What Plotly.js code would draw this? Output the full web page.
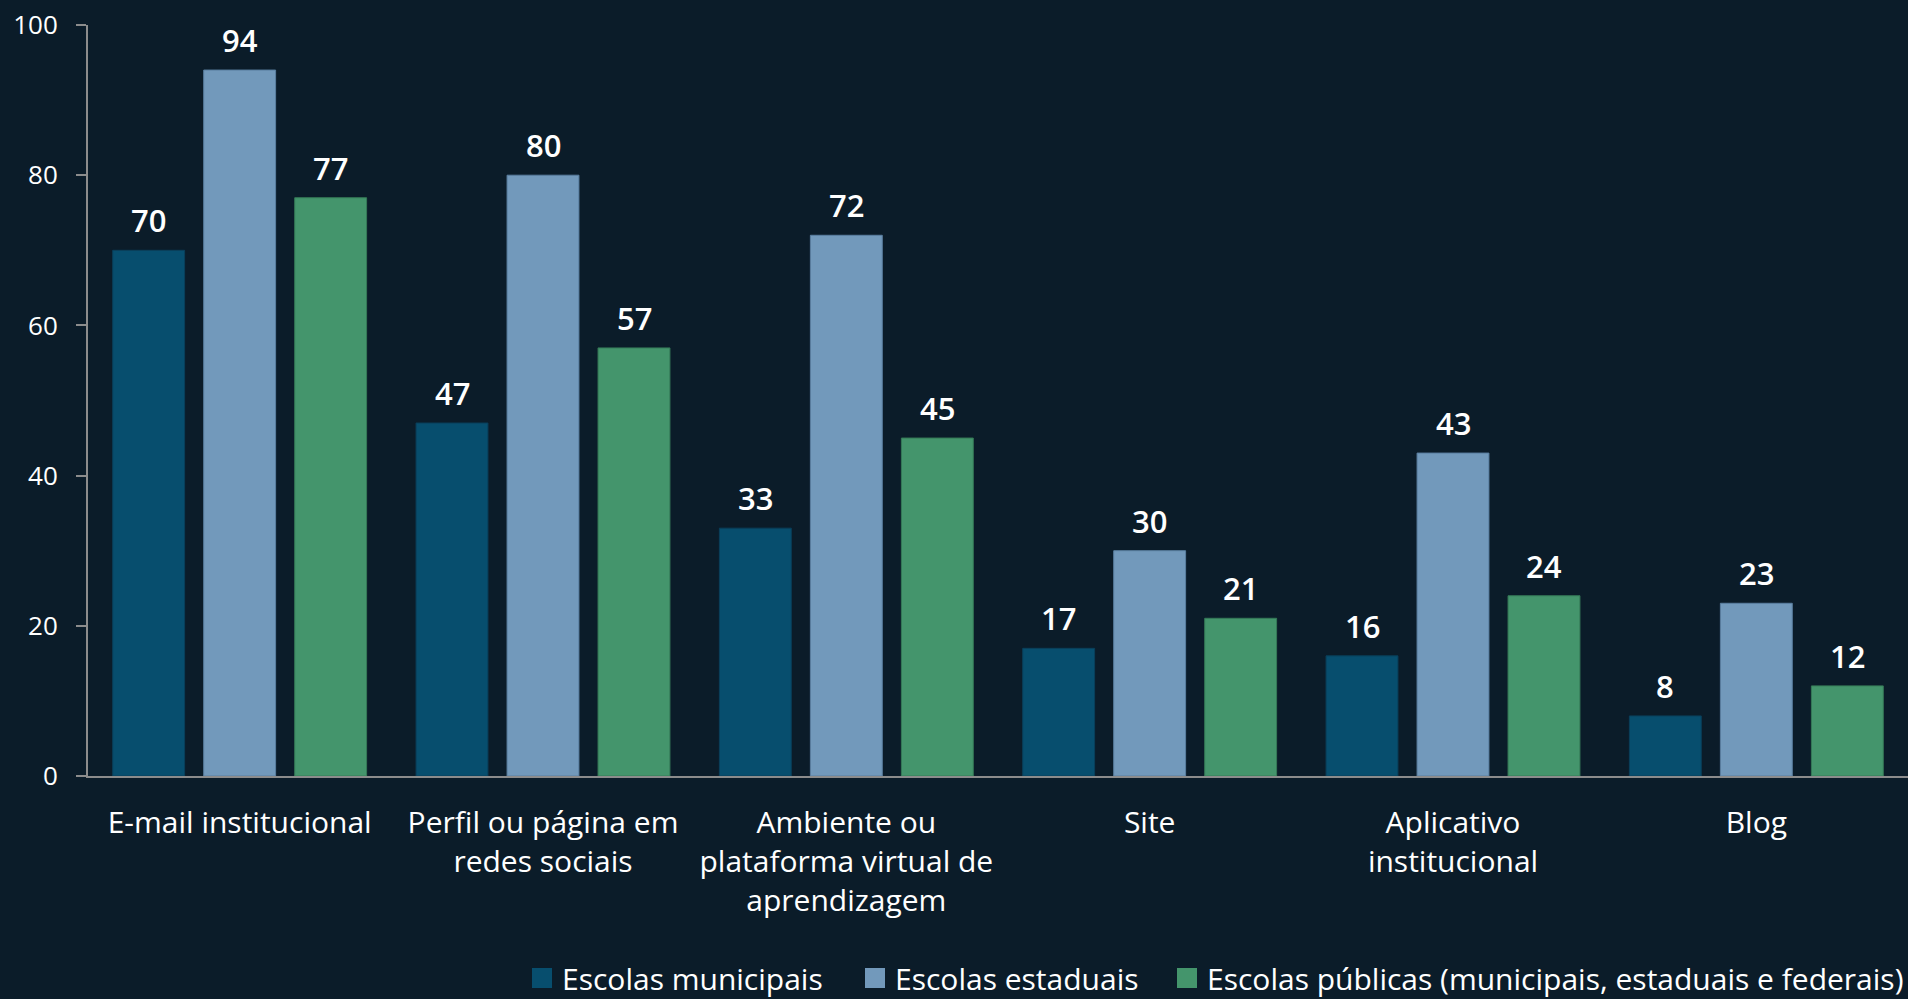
<!DOCTYPE html>
<html>
<head>
<meta charset="utf-8">
<script src="https://cdn.plot.ly/plotly-3.0.1.min.js"></script>
<style>
html,body{margin:0;padding:0;background:#0b1c29;}
#chart{width:1908px;height:999px;}
</style>
</head>
<body>
<div id="chart"></div>
<script>
const categories = [
  "E-mail institucional",
  "Perfil ou página em<br>redes sociais",
  "Ambiente ou<br>plataforma virtual de<br>aprendizagem",
  "Site",
  "Aplicativo<br>institucional",
  "Blog"
];
const seriesNames = [
  "Escolas municipais",
  "Escolas estaduais",
  "Escolas públicas (municipais, estaduais e federais)"
];
const municipais = [70, 47, 33, 17, 16, 8];
const estaduais = [94, 80, 72, 30, 43, 23];
const publicas = [77, 57, 45, 21, 24, 12];
const yTicks = [0, 20, 40, 60, 80, 100];

const colors = ["#074e6e", "#7299bb", "#44956c"];
const lineColors = ["#0a3f5a", "#5a7fa0", "#357a57"];
const seriesValues = [municipais, estaduais, publicas];
const legendIds = ["legend", "legend2", "legend3"];

const FONT = "'Open Sans', 'Noto Sans', sans-serif";
const BARGAP = 0.1;
const nSeries = seriesValues.length;
const slot = (1 - BARGAP) / nSeries;

const traces = seriesValues.map((vals, i) => ({
  type: "bar",
  name: seriesNames[i],
  showlegend: false,
  x: categories,
  y: vals,
  marker: {color: colors[i], line: {color: lineColors[i], width: 1}},
  hoverinfo: "x+y+name"
}));

// legend entries (square swatches) for each series
seriesValues.forEach((vals, i) => {
  traces.push({
    type: "scatter",
    mode: "markers",
    name: seriesNames[i],
    legend: legendIds[i],
    showlegend: true,
    x: [categories[0]],
    y: [null],
    marker: {symbol: "square", size: 16, color: colors[i], line: {color: colors[i], width: 4}},
    hoverinfo: "skip"
  });
});

// value labels above bars, positioned on the category axis via index + group offset
const annotations = [];
seriesValues.forEach((vals, i) => {
  const off = (i - (nSeries - 1) / 2) * slot;
  vals.forEach((v, j) => {
    annotations.push({
      xref: "x", yref: "y",
      x: j + off, y: v,
      text: String(v),
      showarrow: false,
      yanchor: "middle",
      yshift: 30,
      font: {family: FONT, size: 31, color: "#ffffff", weight: 600}
    });
  });
});

function legendAt(xpx) {
  return {
    orientation: "h",
    x: (xpx - 88) / 1820, xanchor: "left",
    y: -0.269, yanchor: "middle",
    font: {family: FONT, size: 30, color: "#ffffff"},
    bgcolor: "rgba(0,0,0,0)",
    itemsizing: "trace",
    itemclick: false, itemdoubleclick: false
  };
}

const layout = {
  width: 1908,
  height: 999,
  paper_bgcolor: "#0b1c29",
  plot_bgcolor: "#0b1c29",
  font: {family: FONT, color: "#ffffff", size: 26},
  margin: {l: 88, r: 0, t: 25, b: 223, autoexpand: false},
  barmode: "group",
  bargap: BARGAP,
  bargroupgap: 0.21,
  showlegend: true,
  legend: legendAt(522),
  legend2: legendAt(855),
  legend3: legendAt(1167),
  annotations: annotations,
  xaxis: {
    type: "category",
    showline: true,
    linecolor: "#8c8c8c",
    linewidth: 2,
    ticks: "",
    showgrid: false,
    zeroline: false,
    ticklabelstandoff: 19,
    tickfont: {family: FONT, size: 30, color: "#ffffff"},
    automargin: false
  },
  yaxis: {
    range: [0, 100],
    tickvals: yTicks,
    ticktext: yTicks.map(String),
    showline: true,
    linecolor: "#8c8c8c",
    linewidth: 2,
    ticks: "outside",
    ticklen: 10,
    tickwidth: 2,
    tickcolor: "#8c8c8c",
    showgrid: false,
    zeroline: false,
    ticklabelstandoff: 13,
    tickfont: {family: FONT, size: 26, color: "#ffffff"},
    automargin: false
  }
};

Plotly.newPlot("chart", traces, layout, {displayModeBar: false, responsive: false});
</script>
</body>
</html>
